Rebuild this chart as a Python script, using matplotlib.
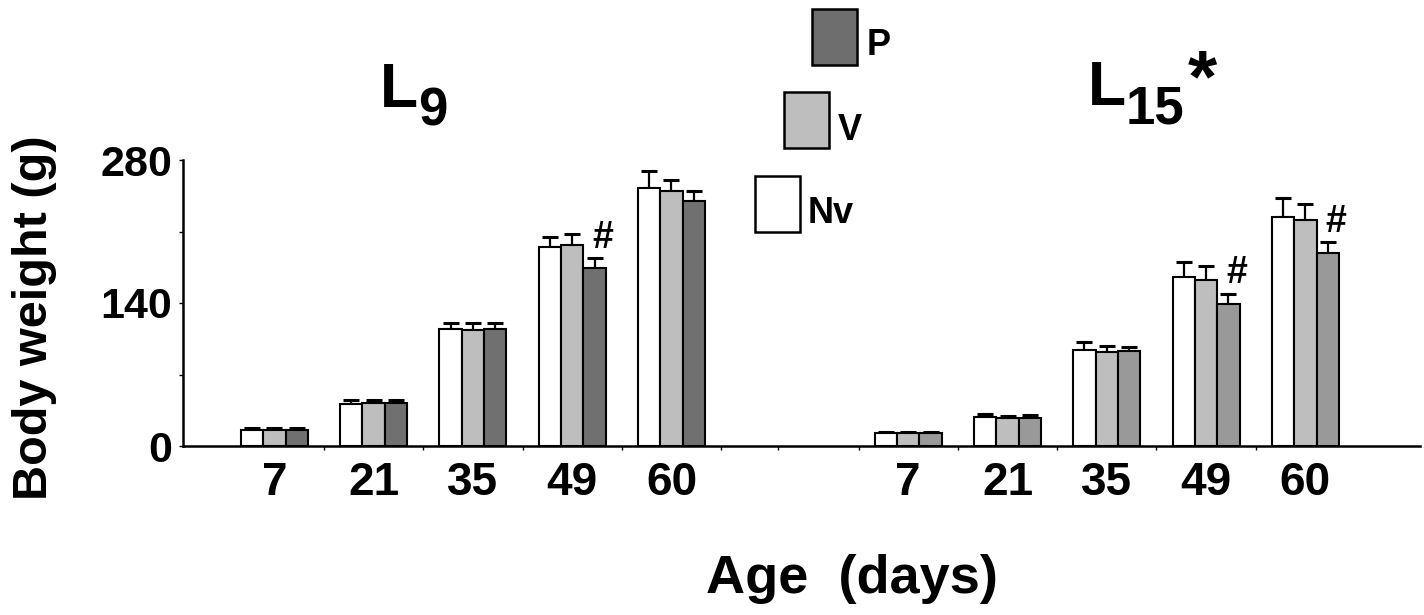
import numpy as np
import matplotlib
matplotlib.use("Agg")
import matplotlib.pyplot as plt
from matplotlib.patches import Rectangle

# ------------------------------------------------------------
# data
# ------------------------------------------------------------
ages = ["7", "21", "35", "49", "60"]

l9_nv = [15.3, 41.0, 114.3, 194.7, 252.3]
l9_nv_err = [2.0, 3.6, 6.5, 9.8, 17.3]
l9_v = [15.3, 42.3, 114.0, 196.7, 250.0]
l9_v_err = [2.0, 2.3, 6.8, 11.0, 10.5]
l9_p = [15.3, 41.7, 114.9, 174.5, 240.0]
l9_p_err = [2.0, 2.9, 5.9, 9.8, 10.0]

l15_nv = [12.4, 28.1, 94.0, 165.8, 223.8]
l15_nv_err = [1.6, 2.9, 7.5, 14.3, 19.0]
l15_v = [12.4, 27.1, 91.7, 162.5, 221.2]
l15_v_err = [1.6, 2.6, 6.5, 13.4, 15.4]
l15_p = [12.4, 27.1, 92.7, 138.7, 189.3]
l15_p_err = [1.6, 2.9, 4.5, 10.4, 10.1]

# ages where P differs (#)
l9_sig = ["49"]
l15_sig = ["49", "60"]

series_names = ["Nv", "V", "P"]
colors_l9 = ["#ffffff", "#bebebe", "#707070"]
colors_l15 = ["#ffffff", "#bebebe", "#999999"]
legend_colors = ["#ffffff", "#bebebe", "#6e6e6e"]

FONT = "Liberation Sans"
W, H = 1424, 615

# ------------------------------------------------------------
# figure
# ------------------------------------------------------------
fig = plt.figure(figsize=(W / 100, H / 100), dpi=100)
ax = fig.add_axes([183 / W, (H - 446) / H, (1420 - 183) / W, 286 / H])

bar_w = 0.225
offsets = [-bar_w, 0.0, bar_w]

panels = [
    (0.0, [l9_nv, l9_v, l9_p], [l9_nv_err, l9_v_err, l9_p_err], colors_l9, l9_sig),
    (6.385, [l15_nv, l15_v, l15_p], [l15_nv_err, l15_v_err, l15_p_err], colors_l15, l15_sig),
]

centers = []
for start, vals, errs, cols, sig in panels:
    base = np.arange(len(ages)) + start
    centers.extend(base)
    for k in range(3):
        x = base + offsets[k]
        ax.bar(x, vals[k], width=bar_w, color=cols[k], edgecolor="black",
               linewidth=1.5, zorder=2)
        ax.errorbar(x, vals[k], yerr=[np.zeros(len(ages)), errs[k]], fmt="none",
                    ecolor="black", elinewidth=1.6, capsize=6, capthick=2.2, zorder=1)
    # '#' above the P bar where it differs
    for a in sig:
        i = ages.index(a)
        top = vals[2][i] + errs[2][i]
        ax.text(base[i] + offsets[2] + 0.08, top + 10, "#", ha="center", va="baseline",
                fontsize=27, fontweight="bold", family=FONT)

ax.set_xlim(-0.92, 11.54)
ax.set_ylim(0, 280)

for s in ["top", "right"]:
    ax.spines[s].set_visible(False)
ax.spines["left"].set_linewidth(1.8)
ax.spines["bottom"].set_linewidth(1.8)

ax.set_xticks(centers)
ax.set_xticklabels(ages * 2, fontsize=33, fontweight="bold", family=FONT)
ax.tick_params(axis="x", which="major", length=0, pad=11)
minor_x = list(np.arange(5) + 0.5) + [5.07] + list(np.arange(5) + 5.885)
ax.set_xticks(minor_x, minor=True)
ax.tick_params(axis="x", which="minor", length=3, width=1, direction="out")

ax.set_yticks([0, 140, 280])
ax.set_yticklabels(["0", "140", "280"], fontsize=31, fontweight="bold", family=FONT)
ax.set_yticks([70, 210], minor=True)
ax.tick_params(axis="y", which="both", length=3, width=1, direction="out", pad=5)

# axis titles
fig.text(35 / W, 1 - 318 / H, "Body weight (g)", rotation=90, ha="center", va="center",
         fontsize=35, fontweight="bold", family=FONT)
fig.text(852 / W, 1 - 593 / H, "Age  (days)", ha="center", va="baseline",
         fontsize=39, fontweight="bold", family=FONT)

# panel titles
fig.text(380 / W, 1 - 107 / H, "L", ha="left", va="baseline",
         fontsize=45, fontweight="bold", family=FONT)
fig.text(418 / W, 1 - 125 / H, "9", ha="left", va="baseline",
         fontsize=38, fontweight="bold", family=FONT)
fig.text(1088 / W, 1 - 105 / H, "L", ha="left", va="baseline",
         fontsize=45, fontweight="bold", family=FONT)
fig.text(1126 / W, 1 - 123 / H, "15", ha="left", va="baseline",
         fontsize=38, fontweight="bold", family=FONT)
fig.text(1188 / W, 1 - 47 / H, "*", ha="left", va="top",
         fontsize=54, fontweight="bold", family=FONT)

# legend boxes
boxes = [(755, 176), (784, 92), (812, 9)]
text_pos = [(808, 223), (838, 140), (867, 55)]
for name, col, (bx, by), (tx, ty) in zip(series_names, legend_colors, boxes, text_pos):
    fig.add_artist(Rectangle((bx / W, 1 - (by + 56) / H), 45 / W, 56 / H,
                             transform=fig.transFigure, facecolor=col,
                             edgecolor="black", linewidth=1.8))
    fig.text(tx / W, 1 - ty / H, name, ha="left", va="baseline",
             fontsize=26, fontweight="bold", family=FONT)

fig.savefig("out.png", dpi=100)
